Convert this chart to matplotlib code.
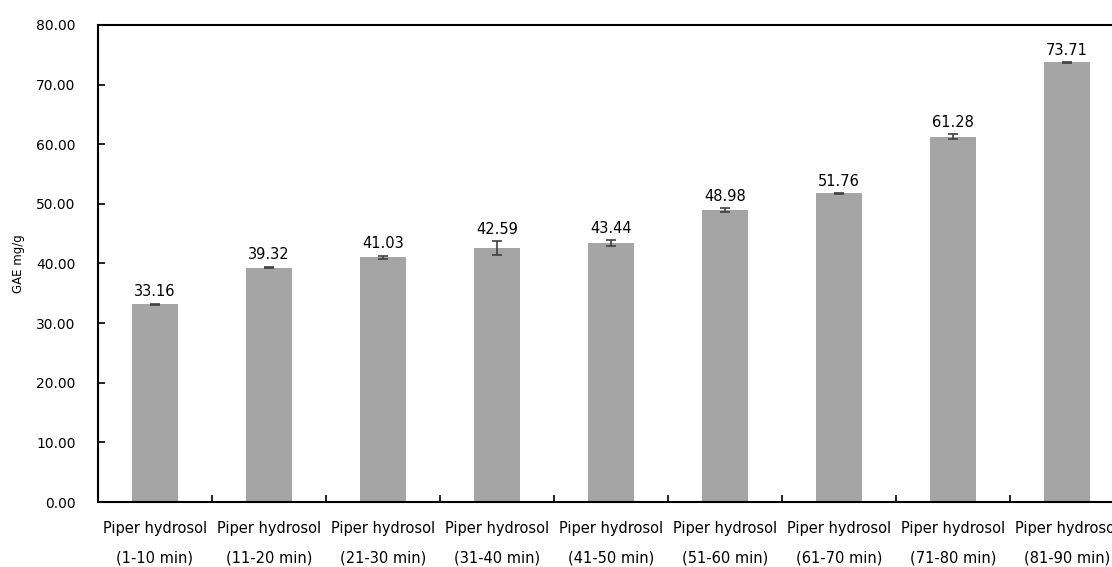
import matplotlib.pyplot as plt
import numpy as np

categories = ["Piper hydrosol\n(1-10 min)", "Piper hydrosol\n(11-20 min)", "Piper hydrosol\n(21-30 min)",
              "Piper hydrosol\n(31-40 min)", "Piper hydrosol\n(41-50 min)", "Piper hydrosol\n(51-60 min)",
              "Piper hydrosol\n(61-70 min)", "Piper hydrosol\n(71-80 min)", "Piper hydrosol\n(81-90 min)"]
values = [33.16, 39.32, 41.03, 42.59, 43.44, 48.98, 51.76, 61.28, 73.71]
errors = [0.12, 0.15, 0.3, 1.1, 0.5, 0.3, 0.1, 0.45, 0.12]
y_ticks = [0, 10, 20, 30, 40, 50, 60, 70, 80]

plt.rcParams['font.family'] = ['DejaVu Sans']

fig = plt.figure(figsize=(11.12, 5.67), dpi=100)
ax = fig.add_axes([0.0881, 0.1146, 0.9227, 0.8414])

x = np.arange(len(values))
ax.bar(x, values, width=0.4, color='#A5A5A5', yerr=errors,
       error_kw=dict(ecolor='#404040', elinewidth=1.2, capsize=3.5, capthick=1.2))

# value labels above the error bars
for xi, v, e in zip(x, values, errors):
    ax.annotate("%.2f" % v, (xi, v + e), xytext=(0, 3), textcoords='offset points',
                ha='center', va='bottom', fontsize=10.5)

ax.set_xlim(-0.5, len(values) - 0.5)
ax.set_ylim(0, 80)
ax.set_yticks(y_ticks)
ax.set_yticklabels(["%.2f" % t for t in y_ticks], fontsize=10)
ax.set_ylabel("GAE mg/g", fontsize=8.5, labelpad=8)

ax.set_xticks(x)
ax.set_xticklabels(categories, fontsize=10.5, linespacing=2.2)
ax.set_xticks(np.arange(len(values) + 1) - 0.5, minor=True)
ax.tick_params(axis='x', which='major', length=0, pad=14)
ax.tick_params(axis='x', which='minor', direction='in', length=5, width=1.2)
ax.tick_params(axis='y', direction='in', length=5, width=1.2, pad=16)

for side in ['left', 'bottom', 'top']:
    ax.spines[side].set_linewidth(1.5)
ax.spines['right'].set_visible(False)

fig.savefig("out.png", dpi=100)
